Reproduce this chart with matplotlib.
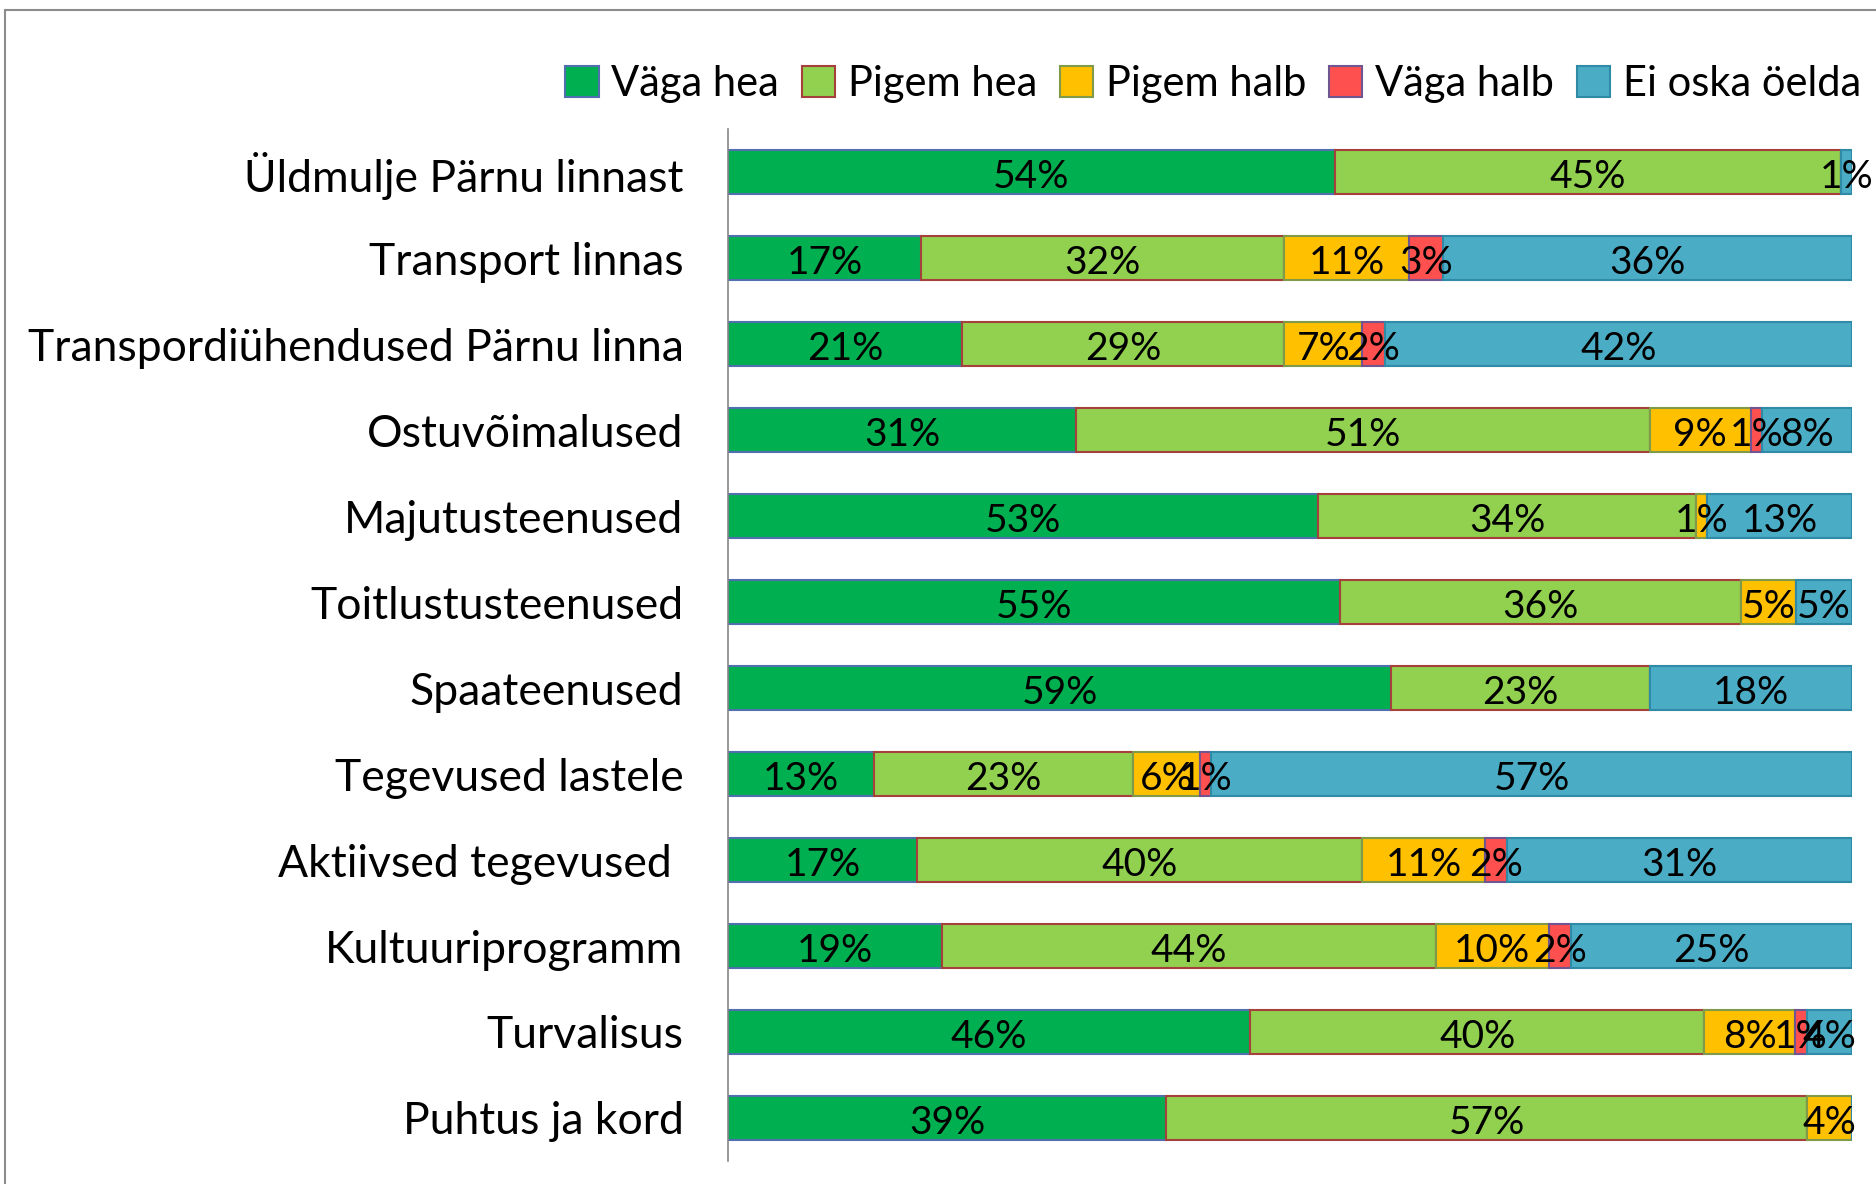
import matplotlib
matplotlib.use("Agg")
import matplotlib.pyplot as plt
from matplotlib.patches import Rectangle
import numpy as np

plt.rcParams['font.family'] = ['Lato', 'DejaVu Sans']

categories = ["Üldmulje Pärnu linnast", "Transport linnas", "Transpordiühendused Pärnu linna",
              "Ostuvõimalused", "Majutusteenused", "Toitlustusteenused", "Spaateenused",
              "Tegevused lastele", "Aktiivsed tegevused ", "Kultuuriprogramm", "Turvalisus",
              "Puhtus ja kord"]
series_names = ["Väga hea", "Pigem hea", "Pigem halb", "Väga halb", "Ei oska öelda"]
vaga_hea = [54, 17, 21, 31, 53, 55, 59, 13, 17, 19, 46, 39]
pigem_hea = [45, 32, 29, 51, 34, 36, 23, 23, 40, 44, 40, 57]
pigem_halb = [0, 11, 7, 9, 1, 5, 0, 6, 11, 10, 8, 4]
vaga_halb = [0, 3, 2, 1, 0, 0, 0, 1, 2, 2, 1, 0]
ei_oska = [1, 36, 42, 8, 13, 5, 18, 57, 31, 25, 4, 0]

fills = ["#00B050", "#92D050", "#FFC000", "#FF5050", "#4BACC6"]
edges = ["#4F6FAF", "#A6403D", "#7F9A48", "#6F5690", "#2F8AA6"]

data = np.array([vaga_hea, pigem_hea, pigem_halb, vaga_halb, ei_oska], dtype=float)
shares = data / data.sum(axis=0) * 100

fig = plt.figure(figsize=(18.76, 11.84), dpi=100)
ax = fig.add_axes([728/1876, 1 - 1161/1184, (1852 - 728)/1876, (1161 - 129)/1184])

y = np.arange(len(categories))
left = np.zeros(len(categories))
for i, name in enumerate(series_names):
    ax.barh(y, shares[i], left=left, height=0.52, color=fills[i],
            edgecolor=edges[i], linewidth=1.5, label=name)
    for j in range(len(categories)):
        if data[i, j] > 0:
            ax.text(left[j] + shares[i, j] / 2, y[j] + 0.02, f"{int(data[i, j])}%",
                    ha='center', va='center_baseline', fontsize=28, color='black')
    left += shares[i]

ax.set_xlim(0, 100)
ax.set_ylim(len(categories) - 0.5, -0.5)
ax.set_yticks(y)
ax.set_yticklabels(categories, fontsize=32)
ax.tick_params(axis='y', length=0, pad=32)
ax.set_xticks([])
for s in ['top', 'right', 'bottom']:
    ax.spines[s].set_visible(False)
ax.spines['left'].set_color('#868686')
ax.spines['left'].set_linewidth(1.2)

fig.legend(loc='center right', bbox_to_anchor=(1.003, 1 - 84/1184), ncol=5, frameon=False,
           fontsize=30, handlelength=0.8, handleheight=0.8, handletextpad=0.3,
           columnspacing=0.55, borderaxespad=0.1)

fig.patches.append(Rectangle((5/1876, -0.1), 1.2, 1 - 10/1184 + 0.1, transform=fig.transFigure,
                             fill=False, edgecolor='#8C8C8C', linewidth=1.5))

fig.savefig("out.png", dpi=100)
